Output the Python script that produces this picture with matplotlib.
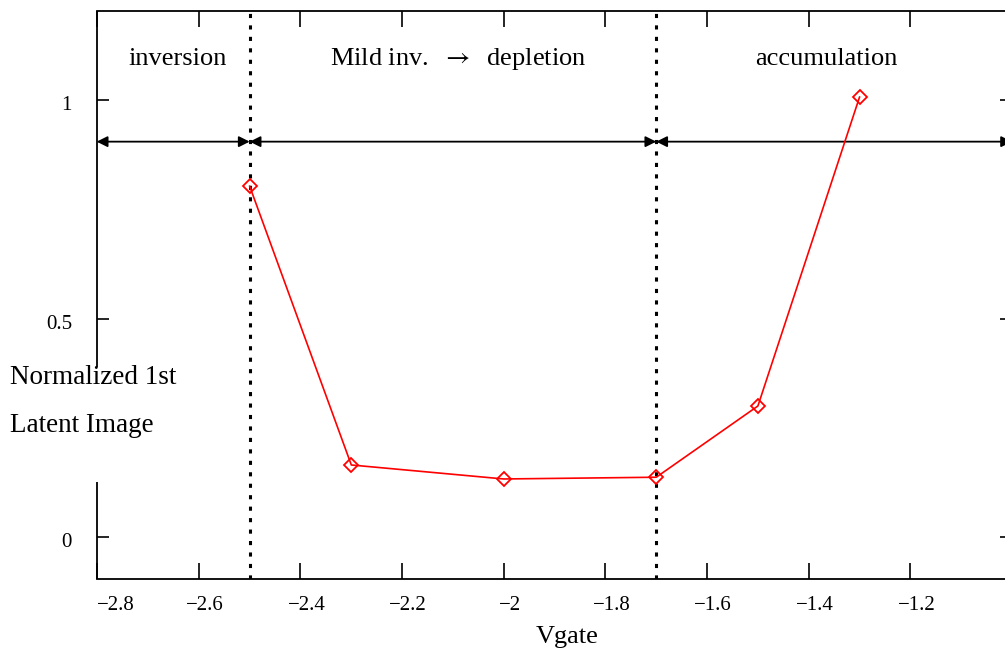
import matplotlib
matplotlib.use("Agg")
import matplotlib.pyplot as plt
import matplotlib.transforms as mtransforms
from matplotlib.ticker import FuncFormatter

plt.rcParams['font.family'] = ['Liberation Serif', 'DejaVu Serif']
plt.rcParams['mathtext.fontset'] = 'stix'

vgate = [-2.5, -2.3, -2.0, -1.7, -1.5, -1.3]
latent = [0.803, 0.165, 0.133, 0.137, 0.300, 1.007]
boundaries = [-2.5, -1.7]
regions = ["inversion", r"Mild inv.  $\rightarrow$  depletion", "accumulation"]
region_x = [-2.641, -2.090, -1.366]
xticks = [-2.8, -2.6, -2.4, -2.2, -2.0, -1.8, -1.6, -1.4, -1.2]
yticks = [0, 0.5, 1]

fig = plt.figure(figsize=(10.05, 6.54), dpi=100)
W, H = 1005, 654
x0, x1 = 96.7, 1012
y0, y1 = 579.3, 11
ax = fig.add_axes([x0 / W, 1 - y0 / H, (x1 - x0) / W, (y0 - y1) / H])
xmin, xmax = -2.801, -1.0
ymin, ymax = -0.0966, 1.204
ax.set_xlim(xmin, xmax)
ax.set_ylim(ymin, ymax)

ax.plot(vgate, latent, color='red', lw=1.2, marker='D', markersize=7.5,
        markerfacecolor='none', markeredgecolor='red', markeredgewidth=1.3,
        zorder=4)

for b in boundaries:
    ax.axvline(b, color='black', lw=2.2, linestyle=(0, (1.35, 2.4)), zorder=3)

arrow_y = 0.905
segs = [(xmin, boundaries[0]), (boundaries[0], boundaries[1]), (boundaries[1], xmax)]
for a, b in segs:
    ax.annotate('', xy=(b, arrow_y), xytext=(a, arrow_y),
                arrowprops=dict(arrowstyle='<|-|>', color='black', lw=1.3,
                                mutation_scale=16, shrinkA=0, shrinkB=0),
                zorder=2)

for t, xx in zip(regions, region_x):
    ax.text(xx, 1.0945, t, ha='center', va='center', fontsize=19)

fmt = FuncFormatter(lambda v, p: ('%g' % round(v, 3)).replace('-', '\u2212'))
ax.set_xticks(xticks)
ax.set_yticks(yticks)
ax.xaxis.set_major_formatter(fmt)
ax.yaxis.set_major_formatter(fmt)
ax.tick_params(axis='x', direction='in', length=11.5, width=1.2, labelsize=15,
               top=True, pad=12)
ax.tick_params(axis='y', direction='in', length=8.5, width=1.2, labelsize=15,
               right=True, pad=17.8)
for s in ['top', 'bottom', 'right']:
    ax.spines[s].set_linewidth(1.3)
ax.spines['left'].set_visible(False)
for ya, yb in [(0.0, 0.171), (0.374, 1.0)]:
    ax.plot([0, 0], [ya, yb], transform=ax.transAxes, color='black', lw=1.3,
            clip_on=False, solid_capstyle='butt')

fig.canvas.draw()
for lab, v in zip(ax.get_xticklabels(), xticks):
    dx = 19 if abs(v + 2.8) < 1e-9 else 6
    lab.set_transform(lab.get_transform() +
                      mtransforms.ScaledTranslation(dx / 100, 0, fig.dpi_scale_trans))
for lab in ax.get_yticklabels():
    lab.set_transform(lab.get_transform() +
                      mtransforms.ScaledTranslation(0, -3 / 100, fig.dpi_scale_trans))

fig.text(10 / W, 1 - 384 / H, "Normalized 1st", ha='left', va='baseline', fontsize=19.5)
fig.text(10 / W, 1 - 432 / H, "Latent Image", ha='left', va='baseline', fontsize=19.5)
fig.text(567 / W, 1 - 637 / H, "Vgate", ha='center', va='center', fontsize=19)

fig.savefig('out.png', dpi=100)
